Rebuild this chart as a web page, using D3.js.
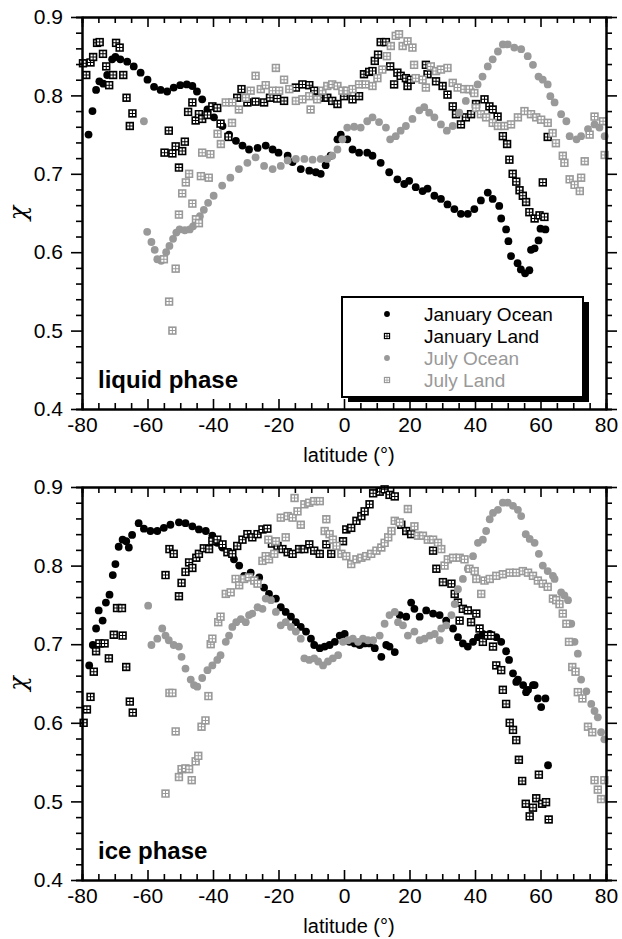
<!DOCTYPE html>
<html>
<head>
<meta charset="utf-8">
<script src="https://cdn.jsdelivr.net/npm/d3@7"></script>
<style>
  body { margin: 0; background: #fff; }
  svg { display: block; font-family: "Liberation Sans", Arial, Helvetica, sans-serif; }
</style>
</head>
<body>
<div id="chart"></div>
<script>
// [latitude, chi]
var liqJanOcean = [[-78,0.75],[-76.8,0.78],[-75.7,0.807],[-74.7,0.818],[-73.5,0.815],[-72.3,0.826],[-70.8,0.846],[-69.8,0.849],[-68.3,0.846],[-66.2,0.843],[-64.2,0.837],[-62.1,0.829],[-60,0.82],[-58,0.811],[-56,0.807],[-54,0.805],[-52,0.81],[-50,0.813],[-48,0.814],[-46.3,0.812],[-44.9,0.805],[-43.3,0.795],[-41.7,0.782],[-39.7,0.772],[-37.1,0.761],[-35.1,0.75],[-33,0.742],[-31,0.736],[-29,0.731],[-26.4,0.733],[-23.9,0.736],[-21.8,0.731],[-20,0.727],[-17.2,0.723],[-15.7,0.715],[-13.2,0.706],[-10.6,0.704],[-8.6,0.702],[-7.1,0.7],[-5.6,0.711],[-4.1,0.723],[-2,0.744],[-1,0.75],[1,0.744],[2.6,0.731],[4.6,0.727],[7.1,0.727],[8.7,0.723],[11.2,0.714],[13.8,0.702],[16.3,0.693],[18.4,0.687],[19.9,0.691],[21.9,0.683],[24,0.678],[25.5,0.681],[27.6,0.672],[29.6,0.668],[31.6,0.661],[33.7,0.655],[35.7,0.649],[37.8,0.649],[39.8,0.655],[41.8,0.666],[43.9,0.676],[45.4,0.668],[47.4,0.659],[48,0.643],[49.5,0.629],[50.2,0.614],[51,0.595],[53,0.586],[54,0.578],[55.3,0.573],[56.6,0.577],[57.1,0.603],[58.2,0.605],[59.4,0.615],[60,0.63],[61.5,0.629]];
var liqJanLand = [[-79.7,0.841],[-78.7,0.826],[-77.4,0.842],[-76.6,0.849],[-75.4,0.867],[-74.6,0.868],[-73.6,0.853],[-72.6,0.837],[-71.7,0.813],[-70.5,0.826],[-69.6,0.867],[-68.5,0.861],[-67.4,0.826],[-66.4,0.797],[-65.4,0.761],[-64.6,0.777],[-54.8,0.727],[-53.5,0.755],[-52.4,0.726],[-51.4,0.735],[-50.4,0.708],[-49.4,0.729],[-48.6,0.741],[-47.6,0.779],[-46.3,0.791],[-45.3,0.768],[-44.3,0.776],[-43.3,0.77],[-41.7,0.775],[-40.2,0.786],[-38.7,0.784],[-37.7,0.764],[-35.3,0.747],[-32.6,0.797],[-31.3,0.808],[-29.5,0.791],[-27,0.792],[-24.4,0.791],[-22.6,0.797],[-20.4,0.796],[-18.3,0.793],[-14.7,0.81],[-12.7,0.814],[-10.6,0.813],[-9.1,0.806],[-7.6,0.797],[-5.1,0.797],[-3.6,0.793],[-2,0.789],[0,0.799],[2.6,0.795],[4.6,0.799],[6.1,0.827],[7.7,0.83],[8.7,0.831],[9.4,0.844],[10.4,0.852],[11.2,0.868],[12.8,0.868],[14.1,0.837],[15.3,0.814],[16.3,0.829],[17.3,0.825],[18.9,0.822],[19.4,0.812],[20.4,0.82],[25,0.839],[25.5,0.827],[28.1,0.818],[30.1,0.812],[31.6,0.801],[33.2,0.786],[34.2,0.776],[35.7,0.763],[37.2,0.772],[38.8,0.776],[40.3,0.789],[42.9,0.795],[44.4,0.786],[45.4,0.782],[46.9,0.773],[48.5,0.748],[49.8,0.738],[50.5,0.718],[51.5,0.7],[52.6,0.69],[53.6,0.679],[54.6,0.672],[55.6,0.664],[56.6,0.651],[58.2,0.643],[59.7,0.647],[60.7,0.689],[61.2,0.645],[62.2,0.747]];
var liqJulOcean = [[-61.1,0.767],[-60.1,0.626],[-58.8,0.613],[-57.8,0.603],[-57,0.591],[-55.8,0.589],[-54.3,0.6],[-53.3,0.608],[-52.2,0.617],[-51.2,0.625],[-50.2,0.629],[-48.6,0.628],[-47.1,0.629],[-46.1,0.633],[-45.1,0.639],[-44,0.646],[-42.8,0.654],[-41.5,0.663],[-39.8,0.672],[-37.2,0.685],[-34.7,0.695],[-32.1,0.706],[-29.5,0.714],[-27,0.721],[-24.4,0.71],[-21.8,0.706],[-19.3,0.71],[-17.2,0.717],[-14.7,0.719],[-12.1,0.719],[-9.6,0.718],[-7.1,0.719],[-5.1,0.719],[-3.6,0.723],[-2,0.731],[-0.5,0.744],[1,0.759],[3.1,0.76],[5.1,0.759],[7.1,0.767],[8.7,0.772],[10.7,0.766],[12.8,0.759],[14.1,0.744],[15.8,0.748],[17.3,0.755],[18.9,0.761],[20.9,0.77],[23,0.781],[24.5,0.785],[26,0.778],[27.6,0.772],[29.6,0.763],[31.4,0.755],[33.2,0.761],[35.2,0.778],[37.2,0.793],[39.3,0.804],[40.8,0.814],[42.3,0.824],[43.9,0.837],[45.4,0.846],[47,0.856],[48.5,0.865],[50,0.865],[52,0.861],[54.1,0.859],[56.1,0.85],[57.7,0.839],[59.4,0.824],[60.7,0.82],[62.2,0.814],[63,0.799],[64.3,0.791],[66.3,0.776],[67.9,0.767],[68.9,0.748],[71,0.744],[72.4,0.748],[74.5,0.757],[76.5,0.763],[78,0.759],[79.6,0.748]];
var liqJulLand = [[-55,0.591],[-53.4,0.537],[-52.4,0.5],[-51.4,0.579],[-50.4,0.648],[-49.4,0.675],[-48.3,0.689],[-47.3,0.7],[-46.3,0.662],[-45.2,0.642],[-44.3,0.637],[-43.7,0.697],[-43.3,0.727],[-41.3,0.695],[-40.8,0.725],[-38.6,0.751],[-37.6,0.738],[-36.1,0.791],[-34.2,0.765],[-34.1,0.791],[-32.1,0.782],[-30,0.797],[-28.5,0.806],[-27,0.825],[-25.4,0.808],[-23.9,0.813],[-21.8,0.806],[-20.8,0.835],[-19.8,0.806],[-18.3,0.82],[-16.7,0.808],[-14.7,0.793],[-12.7,0.795],[-10.6,0.799],[-10.2,0.782],[-8.2,0.795],[-6.6,0.806],[-5.1,0.812],[-3.6,0.814],[-2,0.812],[-0.5,0.806],[1,0.806],[2.6,0.808],[4.6,0.814],[6.6,0.814],[8.7,0.812],[10.2,0.822],[11.7,0.833],[13.1,0.85],[14.3,0.863],[15.8,0.876],[16.8,0.878],[17.9,0.863],[19.4,0.869],[20.9,0.861],[21.4,0.839],[21.9,0.822],[24,0.82],[25,0.81],[26.5,0.837],[28.1,0.831],[29.6,0.833],[31.6,0.835],[33.2,0.816],[34.7,0.81],[36.7,0.808],[38.3,0.808],[39.8,0.803],[40.3,0.784],[41.8,0.776],[43.4,0.772],[45.4,0.765],[47,0.761],[49,0.761],[51,0.763],[53.1,0.772],[55.1,0.78],[57.1,0.776],[58.7,0.772],[60.2,0.769],[62.2,0.765],[63.7,0.752],[64.7,0.739],[66.8,0.723],[67.3,0.714],[68.9,0.693],[70.4,0.686],[72,0.678],[72.4,0.695],[73.5,0.716],[75,0.75],[76.5,0.773],[79.1,0.767],[79.6,0.724]];

var iceJanOcean = [[-77.8,0.673],[-76.7,0.699],[-75.7,0.72],[-74.9,0.743],[-73.7,0.73],[-72.7,0.753],[-71.6,0.763],[-70.6,0.788],[-69.8,0.802],[-68.8,0.824],[-67.6,0.833],[-66.5,0.831],[-65.7,0.823],[-64.7,0.839],[-62.7,0.854],[-61.1,0.847],[-59.1,0.844],[-57,0.844],[-55,0.848],[-53,0.852],[-50.4,0.855],[-48.4,0.854],[-46.3,0.85],[-44.3,0.846],[-42.2,0.844],[-40.2,0.838],[-38.7,0.829],[-37.1,0.823],[-35.1,0.817],[-33.6,0.808],[-32,0.8],[-30.5,0.787],[-28.5,0.791],[-25.9,0.785],[-24.4,0.772],[-22.9,0.764],[-20.8,0.758],[-19.3,0.747],[-17.8,0.741],[-16.2,0.735],[-14.7,0.728],[-13.2,0.722],[-11.6,0.716],[-10.1,0.707],[-9.1,0.699],[-7.4,0.695],[-5.9,0.697],[-4.4,0.699],[-2.8,0.703],[-1.3,0.711],[0.2,0.713],[1.7,0.703],[3.3,0.701],[4.8,0.699],[6.3,0.701],[7.8,0.701],[9.4,0.695],[11.4,0.684],[12.9,0.699],[13.9,0.697],[15.5,0.69],[17,0.737],[19,0.735],[20.5,0.753],[21.5,0.745],[23.1,0.735],[25.1,0.743],[27.2,0.739],[29.2,0.737],[31.2,0.73],[33.3,0.72],[34.8,0.709],[36.3,0.701],[37.8,0.697],[39.4,0.703],[40.9,0.709],[42.4,0.713],[44.5,0.713],[46.5,0.709],[48,0.703],[49.5,0.691],[50.4,0.68],[51.6,0.663],[52.6,0.652],[53.1,0.655],[54.7,0.648],[55.6,0.639],[56.2,0.642],[57.7,0.648],[58.2,0.648],[59.2,0.631],[60.2,0.62],[61.5,0.631],[62.3,0.546]];
var iceJanLand = [[-79.5,0.6],[-78.5,0.617],[-77.4,0.633],[-76.4,0.665],[-75.7,0.691],[-74.7,0.701],[-73.1,0.701],[-71.8,0.682],[-70.3,0.712],[-69.3,0.746],[-67.8,0.746],[-67.6,0.711],[-66.5,0.671],[-65.4,0.627],[-64.5,0.613],[-54.5,0.788],[-53.3,0.821],[-52,0.815],[-50.4,0.761],[-49.6,0.778],[-48.4,0.792],[-47.3,0.804],[-46.3,0.797],[-45.1,0.81],[-44.3,0.815],[-42.8,0.822],[-41.2,0.821],[-40.2,0.831],[-38.7,0.833],[-37.1,0.827],[-35.6,0.817],[-34.1,0.815],[-32.6,0.825],[-31,0.833],[-29.5,0.84],[-28,0.836],[-26.4,0.84],[-24.9,0.846],[-23.4,0.847],[-22,0.828],[-20.3,0.825],[-18.8,0.821],[-17.2,0.817],[-15.7,0.815],[-13.7,0.821],[-12.1,0.821],[-10.6,0.827],[-9.1,0.819],[-7.4,0.815],[-5.4,0.827],[-3.9,0.815],[-0.3,0.831],[0.7,0.846],[2.2,0.848],[3.8,0.857],[5.3,0.863],[6.3,0.869],[7.8,0.878],[8.9,0.892],[10.9,0.894],[12.4,0.897],[13.9,0.89],[15.5,0.888],[17.5,0.852],[19,0.844],[20.5,0.84],[27.2,0.819],[28.2,0.796],[30.2,0.779],[32.8,0.777],[33.8,0.764],[34.8,0.753],[35.3,0.73],[36.3,0.745],[37.8,0.743],[38.8,0.728],[40.4,0.739],[41.4,0.72],[42.4,0.703],[43.9,0.711],[44.9,0.711],[45.5,0.697],[46.5,0.673],[48,0.667],[48.5,0.642],[49.5,0.624],[50.6,0.6],[51.6,0.591],[52.6,0.578],[53.4,0.553],[54.4,0.526],[55.5,0.497],[56.7,0.481],[57.7,0.492],[58.7,0.504],[59.5,0.534],[60.5,0.497],[61.7,0.499],[62.5,0.477]];
var iceJulOcean = [[-59.8,0.749],[-58.8,0.699],[-57,0.707],[-55.5,0.72],[-54.5,0.711],[-53.5,0.705],[-52,0.699],[-50.4,0.697],[-49.6,0.684],[-48.4,0.669],[-46.8,0.655],[-45.8,0.648],[-44.8,0.646],[-43.3,0.657],[-41.7,0.667],[-40.2,0.673],[-38.7,0.68],[-37.7,0.686],[-36.1,0.703],[-35.1,0.711],[-34.1,0.722],[-32.9,0.728],[-31.5,0.732],[-30,0.728],[-29,0.737],[-28,0.739],[-26.4,0.747],[-24.9,0.745],[-23.9,0.758],[-22.3,0.756],[-20.8,0.741],[-19.3,0.724],[-17.8,0.728],[-16.2,0.722],[-14.7,0.716],[-13.2,0.707],[-12.1,0.682],[-10.6,0.68],[-9.1,0.682],[-7.9,0.678],[-6.4,0.673],[-4.9,0.678],[-3.4,0.682],[-1.8,0.686],[-0.3,0.703],[1.2,0.705],[2.7,0.707],[4.3,0.703],[5.8,0.707],[7.3,0.705],[8.9,0.705],[10.9,0.711],[12.4,0.726],[13.9,0.737],[15.5,0.741],[16.5,0.728],[18,0.724],[19.5,0.711],[21.5,0.716],[23.1,0.705],[24.6,0.707],[26.2,0.711],[27.7,0.713],[29.2,0.705],[29.7,0.72],[31.2,0.724],[32.8,0.737],[33.8,0.751],[34.8,0.77],[36.3,0.783],[37.8,0.796],[39.4,0.812],[40.9,0.829],[42.4,0.833],[43.4,0.844],[44.5,0.859],[45.5,0.867],[47,0.871],[48.5,0.88],[50,0.88],[51.6,0.876],[53.1,0.871],[54.1,0.863],[55.5,0.84],[56.7,0.834],[58.2,0.829],[59.5,0.815],[60.7,0.8],[62.2,0.793],[63.8,0.787],[64.3,0.783],[66.3,0.766],[67.3,0.762],[68.4,0.756],[69.4,0.726],[70.4,0.703],[71.4,0.688],[72.4,0.655],[74,0.64],[75.5,0.624],[76.5,0.615],[77.5,0.607],[78.5,0.588],[79.5,0.579]];
var iceJulLand = [[-54.5,0.51],[-53.3,0.638],[-52.4,0.638],[-51.4,0.589],[-50.4,0.531],[-49.6,0.541],[-48.4,0.542],[-47.3,0.541],[-46.5,0.527],[-45.3,0.551],[-44.5,0.558],[-43.5,0.595],[-42.3,0.603],[-41.4,0.634],[-40.7,0.7],[-40.2,0.707],[-38.4,0.728],[-37.7,0.735],[-36.1,0.764],[-34.6,0.766],[-33.1,0.783],[-32,0.775],[-30.5,0.783],[-29,0.785],[-27.4,0.781],[-26.4,0.777],[-24.9,0.806],[-23.9,0.812],[-23.1,0.833],[-22.9,0.808],[-21.3,0.815],[-20.8,0.831],[-19.3,0.861],[-17.8,0.836],[-17.2,0.863],[-15.7,0.861],[-15.1,0.886],[-14.2,0.869],[-13.2,0.852],[-12.1,0.878],[-10.6,0.88],[-9.1,0.882],[-7.4,0.882],[-5.9,0.844],[-5.4,0.859],[-4.4,0.84],[-3.4,0.833],[-2.3,0.825],[-0.8,0.815],[0.7,0.812],[2.2,0.802],[3.8,0.808],[5.3,0.81],[6.8,0.812],[8.3,0.815],[9.9,0.819],[11.4,0.823],[12.4,0.829],[13.5,0.836],[14.5,0.844],[15.5,0.857],[17,0.855],[19.5,0.872],[21.5,0.85],[22.6,0.838],[24.1,0.838],[25.6,0.833],[27.2,0.833],[28.7,0.829],[29.7,0.821],[30.7,0.8],[31.7,0.808],[33.3,0.81],[35.3,0.81],[36.8,0.808],[38.3,0.796],[39.9,0.793],[40.4,0.783],[41.9,0.764],[42.9,0.781],[44.5,0.783],[46.5,0.787],[48.5,0.789],[50.6,0.791],[52.6,0.791],[54.6,0.793],[56.2,0.791],[57.7,0.787],[59.2,0.781],[60.7,0.777],[62.2,0.773],[63.8,0.758],[64.8,0.756],[65.8,0.751],[66.8,0.739],[67.9,0.726],[68.7,0.703],[69.7,0.671],[70.7,0.665],[71.4,0.639],[72.8,0.631],[74.5,0.595],[75.8,0.588],[76.5,0.527],[77.5,0.515],[78.5,0.503],[79.5,0.527]];

var seriesNames = ["January Ocean", "January Land", "July Ocean", "July Land"];
var seriesColors = ["#000", "#000", "#999", "#999"];
var seriesShapes = ["circle", "square", "circle", "square"];

var xTicks = [-80, -60, -40, -20, 0, 20, 40, 60, 80];
var yTicks = [0.4, 0.5, 0.6, 0.7, 0.8, 0.9];

var width = 622, height = 939,
  left = 82, right = 606;

var panels = [
  {top: 17, bottom: 409, label: "liquid phase", legend: true, series: [liqJanOcean, liqJanLand, liqJulOcean, liqJulLand]},
  {top: 487, bottom: 880, label: "ice phase", legend: false, series: [iceJanOcean, iceJanLand, iceJulOcean, iceJulLand]}
];

var svg = d3.select("#chart").append("svg")
  .attr("width", width)
  .attr("height", height);

svg.append("rect").attr("width", width).attr("height", height).attr("fill", "#fff");

var x = d3.scaleLinear().domain([-80, 80]).range([left, right]);
var xMinor = d3.range(-75, 80, 5).filter(function(d) { return d % 20 != 0; });
var yMinor = d3.range(0.42, 0.9, 0.02).map(function(d) { return +d.toFixed(2); })
  .filter(function(d) { return Math.abs(d * 10 - Math.round(d * 10)) > 1e-6; });

// circle, or square with a little 2x2 grid of white cells
function marker(sel, shape, color, k) {
  k = k || 1;
  if (shape == "circle") {
    sel.append("circle").attr("r", 3.9 * k).attr("fill", color);
  } else {
    sel.append("g").attr("transform", "scale(" + k + ")").call(function(s) {
      s.append("rect").attr("x", -4.2).attr("y", -4.2).attr("width", 8.4).attr("height", 8.4).attr("fill", color);
      s.append("path")
        .attr("d", "M-2.6,-2.6h2.1v2.1h-2.1zM0.5,-2.6h2.1v2.1h-2.1zM-2.6,0.5h2.1v2.1h-2.1zM0.5,0.5h2.1v2.1h-2.1z")
        .attr("fill", "#fff");
    });
  }
}

panels.forEach(function(p) {
  var y = d3.scaleLinear().domain([0.4, 0.9]).range([p.bottom, p.top]);
  var g = svg.append("g");

  // points
  p.series.forEach(function(data, i) {
    g.append("g")
      .selectAll("g")
      .data(data)
      .enter()
      .append("g")
      .attr("transform", function(d) { return "translate(" + x(d[0]) + "," + y(d[1]) + ")"; })
      .each(function() { marker(d3.select(this), seriesShapes[i], seriesColors[i]); });
  });

  // axes: top/bottom ticks point in, left/right ticks point out
  var axes = g.append("g").attr("class", "axes");

  axes.append("g")
    .attr("transform", "translate(0," + p.bottom + ")")
    .call(d3.axisBottom(x).tickValues(xTicks).tickSizeInner(-10).tickSizeOuter(0).tickPadding(8)
      .tickFormat(function(d) { return String(d); }));
  axes.append("g")
    .attr("transform", "translate(0," + p.bottom + ")")
    .call(d3.axisBottom(x).tickValues(xMinor).tickSize(-6).tickFormat(""));
  axes.append("g")
    .attr("transform", "translate(0," + p.top + ")")
    .call(d3.axisTop(x).tickValues(xTicks).tickSizeInner(-10).tickSizeOuter(0).tickFormat(""));
  axes.append("g")
    .attr("transform", "translate(0," + p.top + ")")
    .call(d3.axisTop(x).tickValues(xMinor).tickSize(-6).tickFormat(""));

  axes.append("g")
    .attr("transform", "translate(" + left + ",0)")
    .call(d3.axisLeft(y).tickValues(yTicks).tickSizeInner(11).tickSizeOuter(0).tickPadding(8)
      .tickFormat(d3.format(".1f")));
  axes.append("g")
    .attr("transform", "translate(" + left + ",0)")
    .call(d3.axisLeft(y).tickValues(yMinor).tickSize(6).tickFormat(""));
  axes.append("g")
    .attr("transform", "translate(" + right + ",0)")
    .call(d3.axisRight(y).tickValues(yTicks).tickSizeInner(11).tickSizeOuter(0).tickFormat(""));
  axes.append("g")
    .attr("transform", "translate(" + right + ",0)")
    .call(d3.axisRight(y).tickValues(yMinor).tickSize(6).tickFormat(""));

  axes.selectAll(".domain").attr("stroke", "#000").attr("stroke-width", 2);
  axes.selectAll(".tick line").attr("stroke", "#000").attr("stroke-width", 1.6);
  axes.selectAll(".tick text")
    .attr("fill", "#000")
    .style("font-size", "21px")
    .style("font-family", "'Liberation Sans', Arial, Helvetica, sans-serif");

  // titles
  g.append("text")
    .attr("x", 349)
    .attr("y", p.bottom + 53)
    .attr("text-anchor", "middle")
    .style("font-size", "20px")
    .text("latitude (°)");

  g.append("text")
    .attr("transform", "translate(26," + ((p.top + p.bottom) / 2) + ") rotate(-90)")
    .attr("text-anchor", "middle")
    .style("font-size", "24px")
    .style("font-family", "'DejaVu Serif', serif")
    .style("font-style", "italic")
    .text("χ");

  g.append("text")
    .attr("x", 98)
    .attr("y", p.bottom - 21)
    .style("font-size", "24px")
    .style("font-weight", "bold")
    .text(p.label);

  if (p.legend) {
    var lg = g.append("g").attr("transform", "translate(342,297)");
    lg.append("rect").attr("x", 6).attr("y", 5).attr("width", 241).attr("height", 100).attr("fill", "#000");
    lg.append("rect").attr("width", 241).attr("height", 100).attr("fill", "#fff")
      .attr("stroke", "#000").attr("stroke-width", 2);
    seriesNames.forEach(function(name, i) {
      var row = lg.append("g").attr("transform", "translate(0," + (17 + i * 22) + ")");
      var m = row.append("g").attr("transform", "translate(45,0)");
      marker(m, seriesShapes[i], seriesColors[i], 0.75);
      row.append("text")
        .attr("x", 82)
        .attr("y", 6.5)
        .attr("fill", seriesColors[i])
        .style("font-size", "19px")
        .text(name);
    });
  }
});
</script>
</body>
</html>
